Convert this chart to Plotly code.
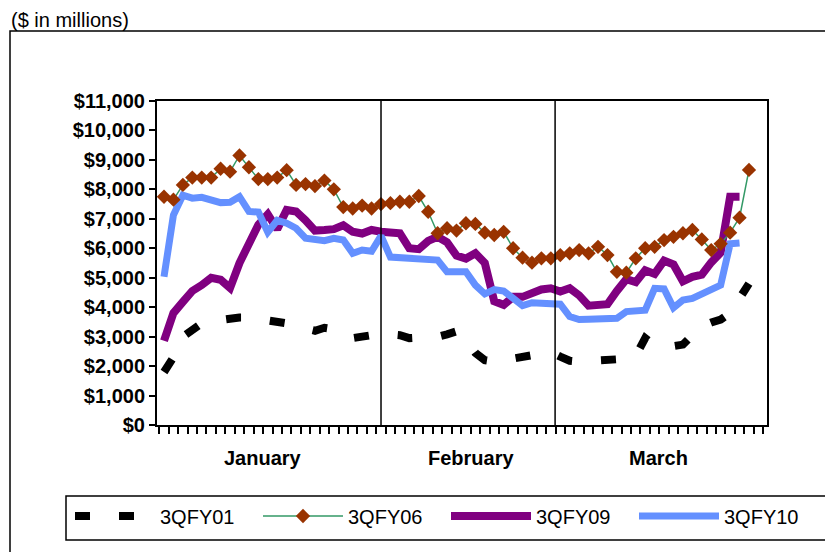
import plotly.graph_objects as go

# ---- data (values in $ millions) ----
fy01 = [1800, 2300, 3000, 3250, 3450, 3520, 3580, 3600, 3650, 3650,
        3600, 3550, 3520, 3450, 3350, 3250, 3200, 3300, 3250, 3100,
        2950, 3000, 3070, 3100, 3080, 3050, 2950, 2950, 2970, 3000,
        3080, 3180, 2900, 2450, 2200, 2150, 2200, 2250, 2330, 2400,
        2450, 2480, 2320, 2180, 2150, 2170, 2200, 2220, 2230, 2250,
        2350, 2950, 2700, 2620, 2680, 2730, 3050, 3350, 3480, 3580,
        3800, 4300, 4800]
fy06 = [7750, 7650, 8150, 8400, 8400, 8400, 8700, 8600, 9150, 8750,
        8350, 8350, 8400, 8650, 8150, 8180, 8110, 8300, 8000, 7400,
        7350, 7450, 7350, 7500, 7530, 7580, 7580, 7775, 7240, 6510,
        6680, 6600, 6850, 6825, 6530, 6450, 6560, 6000, 5680, 5510,
        5660, 5660, 5770, 5830, 5940, 5830, 6050, 5770, 5200, 5170,
        5660, 6000, 6050, 6280, 6390, 6510, 6620, 6300, 5940, 6150,
        6530, 7040, 8660]
fy09 = [2860, 3800, 4180, 4550, 4750, 5000, 4930, 4650, 5500, 6200,
        6800, 7150, 6650, 7300, 7250, 6950, 6600, 6620, 6650, 6780,
        6560, 6500, 6620, 6560, 6520, 6510, 6000, 5970, 6250, 6390,
        6200, 5750, 5650, 5830, 5500, 4200, 4080, 4350, 4350, 4500,
        4600, 4640, 4530, 4640, 4400, 4050, 4050, 4100, 4550, 4950,
        4850, 5250, 5130, 5580, 5450, 4880, 5030, 5100, 5520, 5850,
        7750, 7750]
fy10 = [5030, 7130, 7800, 7700, 7730, 7640, 7550, 7560, 7750, 7250,
        7230, 6550, 6950, 6850, 6680, 6340, 6280, 6260, 6340, 6280,
        5830, 5940, 5900, 6420, 5700, 5680, 5680, 5680, 5650, 5600,
        5200, 5200, 5200, 4750, 4450, 4600, 4550, 4300, 4050, 4150,
        4150, 4150, 4100, 3680, 3580, 3590, 3600, 3600, 3620, 3850,
        3880, 3900, 4640, 4620, 3980, 4240, 4300, 4450, 4620, 4750,
        6150, 6180]

months = ["January", "February", "March"]
month_pos = [10.5, 32.5, 52.4]
dividers = [23.0, 41.45]
y_ticks = list(range(0, 11001, 1000))
n_slots = 65

def idx(s):
    return list(range(len(s)))

fig = go.Figure()
fig.add_trace(go.Scatter(x=idx(fy01), y=fy01, name="3QFY01", mode="lines",
                         line=dict(color="black", width=8, dash="15px,29px"),
                         legendrank=1))
fig.add_trace(go.Scatter(x=idx(fy09), y=fy09, name="3QFY09", mode="lines",
                         line=dict(color="#800080", width=8),
                         legendrank=3))
fig.add_trace(go.Scatter(x=idx(fy10), y=fy10, name="3QFY10", mode="lines",
                         line=dict(color="#6490FF", width=7),
                         legendrank=4))
fig.add_trace(go.Scatter(x=idx(fy06), y=fy06, name="3QFY06", mode="lines+markers",
                         line=dict(color="#339966", width=1.5),
                         marker=dict(symbol="diamond", size=11, color="#993300"),
                         legendrank=2))

# page body adds an 8px offset; screen-space plot box is 157..767 x 101..425
OFF = 8
L, R, T, B = 157, 767, 101, 425
W, H = 833, 552
def px(x):
    return (x - L) / (R - L)
def py(y):
    return (B - y) / (B - T)

shapes = []
for d in dividers:
    shapes.append(dict(type="line", xref="x", yref="paper", x0=d, x1=d, y0=0, y1=1,
                       line=dict(color="black", width=1.5)))
shapes.append(dict(type="rect", xref="paper", yref="paper",
                   x0=px(10), x1=px(900), y0=py(31), y1=py(600),
                   line=dict(color="black", width=1.5)))
shapes.append(dict(type="rect", xref="paper", yref="paper",
                   x0=px(66), x1=px(900), y0=py(496), y1=py(540),
                   line=dict(color="black", width=1.5)))

annotations = [dict(text="($ in millions)", xref="paper", yref="paper",
                    x=px(9), y=py(20), xanchor="left", yanchor="middle",
                    showarrow=False, font=dict(size=20, color="black"))]
for m, p in zip(months, month_pos):
    annotations.append(dict(text="<b>%s</b>" % m, xref="x", yref="paper", x=p, y=py(458),
                            xanchor="center", yanchor="middle", showarrow=False,
                            font=dict(size=20, color="black")))

x0 = -0.742
x1 = 63.91
fig.update_layout(
    width=W, height=H,
    margin=dict(l=L - OFF, r=W - R + OFF, t=T - OFF, b=H - B + OFF),
    paper_bgcolor="white", plot_bgcolor="white",
    font=dict(family="Arial, Liberation Sans, sans-serif", color="black"),
    showlegend=True,
    legend=dict(orientation="h", x=px(70), y=py(516), xanchor="left", yanchor="middle",
                font=dict(size=20), itemwidth=80, entrywidth=93, entrywidthmode="pixels",
                bgcolor="rgba(0,0,0,0)", borderwidth=0, traceorder="normal"),
    xaxis=dict(range=[x0, x1], tickmode="array",
               tickvals=[k - 0.5 for k in range(n_slots)],
               ticktext=[""] * n_slots, ticks="outside", ticklen=7, tickwidth=1.5,
               tickcolor="black", showline=True, linecolor="black", linewidth=2,
               mirror=True, showgrid=False, zeroline=False),
    yaxis=dict(range=[0, 11000], tickmode="array", tickvals=y_ticks,
               ticktext=["<b>$%s</b>" % format(v, ",") for v in y_ticks],
               ticks="outside", ticklen=6, tickwidth=1.5, tickcolor="black",
               showline=True, linecolor="black", linewidth=2, mirror=True,
               showgrid=False, zeroline=False, tickfont=dict(size=20)),
    shapes=shapes, annotations=annotations,
)

fig.write_html("out.html")
